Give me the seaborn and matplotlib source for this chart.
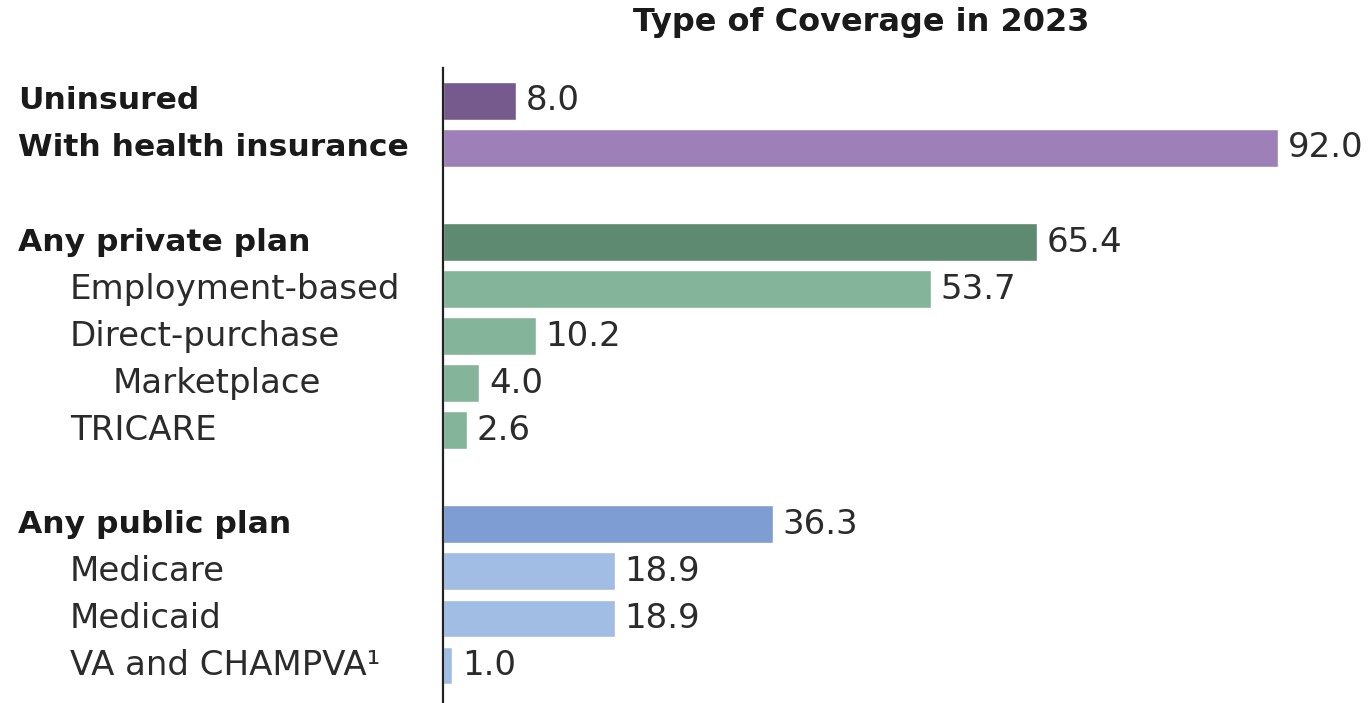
import numpy as np
import pandas as pd
import matplotlib
matplotlib.use('Agg')
import matplotlib.pyplot as plt
import matplotlib.transforms as mtransforms
import seaborn as sns

# Donnees (pourcentages 2023)
categories = ['Uninsured', 'With health insurance',
              'Any private plan', 'Employment-based', 'Direct-purchase',
              'Marketplace', 'TRICARE',
              'Any public plan', 'Medicare', 'Medicaid', 'VA and CHAMPVA\u00b9']
valeurs = [8.0, 92.0, 65.4, 53.7, 10.2, 4.0, 2.6, 36.3, 18.9, 18.9, 1.0]
groupes = [0, 0, 1, 1, 1, 1, 1, 2, 2, 2, 2]
niveaux = [0, 0, 0, 1, 1, 2, 1, 0, 1, 1, 1]
couleurs = ['#775a8d', '#9d80b8', '#5e8a71', '#84b59b', '#84b59b',
            '#84b59b', '#84b59b', '#7e9ed3', '#a2bde3', '#a2bde3', '#a2bde3']

df = pd.DataFrame({'categorie': categories, 'valeur': valeurs,
                   'groupe': groupes, 'niveau': niveaux})
df['pos'] = np.arange(len(df)) + df['groupe']

sns.set_theme(style='white')
plt.rcParams['font.family'] = ['DejaVu Sans']

fig = plt.figure(figsize=(13.71, 7.03), dpi=100)
ax = fig.add_axes([443 / 1371, 0.0, 908 / 1371, 1 - 68 / 703])

sns.barplot(data=df, x='valeur', y='pos', hue='categorie',
            palette=dict(zip(categories, couleurs)), orient='h',
            native_scale=True, dodge=False, legend=False, width=0.8,
            saturation=1, ax=ax)

ax.set_xlim(0, 100)
ax.set_ylim(12.8, -0.7)
ax.set_xticks([])
ax.set_yticks([])
ax.set_xlabel('')
ax.set_ylabel('')
for s in ['top', 'right', 'bottom']:
    ax.spines[s].set_visible(False)
ax.spines['left'].set_color('#222222')
ax.spines['left'].set_linewidth(1.6)

# valeurs au bout des barres
for _, r in df.iterrows():
    ax.text(r['valeur'] + 1.1, r['pos'], f"{r['valeur']:.1f}",
            va='center', ha='left', fontsize=24.5, color='#2b2b2b')

# libelles a gauche avec indentation
trans = mtransforms.blended_transform_factory(fig.transFigure, ax.transData)
x_indent = {0: 18 / 1371, 1: 70 / 1371, 2: 113 / 1371}
for _, r in df.iterrows():
    gras = r['niveau'] == 0
    fig.text(x_indent[r['niveau']], r['pos'], r['categorie'], transform=trans,
             va='center', ha='left', fontsize=22.6 if gras else 24.5,
             fontweight='bold' if gras else 'normal',
             color='#1a1a1a' if gras else '#2b2b2b')

fig.text(861 / 1371, 1 - 22 / 703, 'Type of Coverage in 2023', ha='center',
         va='center', fontsize=23, fontweight='bold', color='#1a1a1a')

fig.savefig('out.png', dpi=100, facecolor='white')
